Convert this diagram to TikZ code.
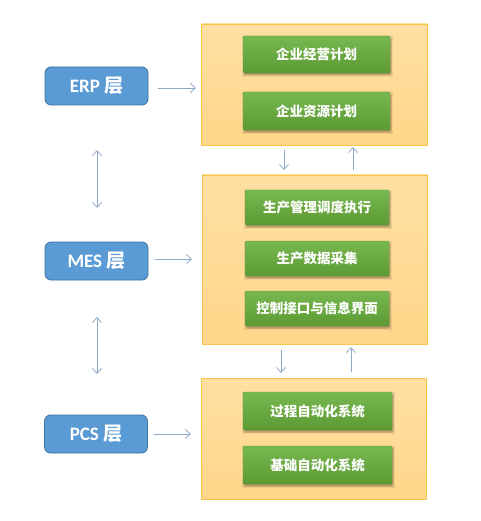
\documentclass[tikz,border=0pt]{standalone}
\usepackage{fontspec}
\setmainfont{Carlito}
\newfontfamily\cjk{Noto Sans CJK SC}
\usetikzlibrary{arrows.meta,shadows.blur}
\definecolor{bluefill}{HTML}{5B9BD5}
\definecolor{blueline}{HTML}{41719C}
\definecolor{orfill}{HTML}{FFD68A}
\definecolor{ortop}{HTML}{FFE0A3}
\definecolor{orline}{HTML}{F7C548}
\definecolor{grtop}{HTML}{78B850}
\definecolor{grbot}{HTML}{5C9A34}
\definecolor{arr}{HTML}{8EAAC9}
\begin{document}
\begin{tikzpicture}[x=1pt,y=-1pt,
  layerbox/.style={draw=blueline,line width=0.8pt,fill=bluefill,rounded corners=6pt,
    minimum width=103pt,minimum height=38pt,text=white,font=\fontsize{19}{21}\selectfont\bfseries,inner sep=0pt},
  panel/.style={draw=orline,line width=0.8pt,top color=ortop,bottom color=orfill,inner sep=0pt},
  item/.style={top color=grtop,bottom color=grbot,draw=grbot,line width=0.3pt,rounded corners=1pt,
    text=white,font=\cjk\fontsize{13.5}{15}\selectfont\bfseries,inner sep=0pt,
    blur shadow={shadow xshift=1pt,shadow yshift=-2pt,shadow blur steps=5,shadow opacity=40}},
  conn/.style={draw=arr,line width=0.8pt,-{Straight Barb[length=5pt,width=9pt]}},
  dconn/.style={draw=arr,line width=0.8pt,{Straight Barb[length=5pt,width=9pt]}-{Straight Barb[length=5pt,width=9pt]}}]
\useasboundingbox (0,0) rectangle (480,521);
\fill[white] (0,0) rectangle (480,521);
% layer boxes
\node[layerbox] (erp) at (96.5,86) {ERP {\cjk 层}};
\node[layerbox] (mes) at (96.5,261) {MES {\cjk 层}};
\node[layerbox] (pcs) at (96,434) {PCS {\cjk 层}};
% panels
\node[panel,minimum width=226pt,minimum height=121pt] (p1) at (314.5,84.5) {};
\node[panel,minimum width=225pt,minimum height=169pt] (p2) at (314.5,259.5) {};
\node[panel,minimum width=225pt,minimum height=121pt] (p3) at (313.5,438.5) {};
% items
\node[item,minimum width=147pt,minimum height=37pt] (i1) at (316.5,54.5) {企业经营计划};
\node[item,minimum width=147pt,minimum height=38pt] (i2) at (316.5,111) {企业资源计划};
\node[item,minimum width=144pt,minimum height=35pt] (i3) at (317,207.5) {生产管理调度执行};
\node[item,minimum width=144pt,minimum height=35pt] (i4) at (317,258.5) {生产数据采集};
\node[item,minimum width=144pt,minimum height=35pt] (i5) at (317,308.5) {控制接口与信息界面};
\node[item,minimum width=149pt,minimum height=38pt] (i6) at (317.5,411) {过程自动化系统};
\node[item,minimum width=149pt,minimum height=38pt] (i7) at (317.5,465) {基础自动化系统};
% coordinates for connectors
\coordinate (a1s) at (158,88); \coordinate (a1e) at (196,88);
\coordinate (a2s) at (155,259); \coordinate (a2e) at (192,259);
\coordinate (a3s) at (154,434); \coordinate (a3e) at (191,434);
\draw[conn] (a1s) -- (a1e);
\draw[conn] (a2s) -- (a2e);
\draw[conn] (a3s) -- (a3e);
\coordinate (d1a) at (97,150); \coordinate (d1b) at (97,208);
\coordinate (d2a) at (97,317); \coordinate (d2b) at (97,374);
\draw[dconn] (d1a) -- (d1b);
\draw[dconn] (d2a) -- (d2b);
\coordinate (v1a) at (284,150); \coordinate (v1b) at (284,170);
\coordinate (v2a) at (353,170); \coordinate (v2b) at (353,147);
\coordinate (v3a) at (281,350); \coordinate (v3b) at (281,373);
\coordinate (v4a) at (351,372); \coordinate (v4b) at (351,347);
\draw[conn] (v1a) -- (v1b);
\draw[conn] (v2a) -- (v2b);
\draw[conn] (v3a) -- (v3b);
\draw[conn] (v4a) -- (v4b);
\end{tikzpicture}
\end{document}
